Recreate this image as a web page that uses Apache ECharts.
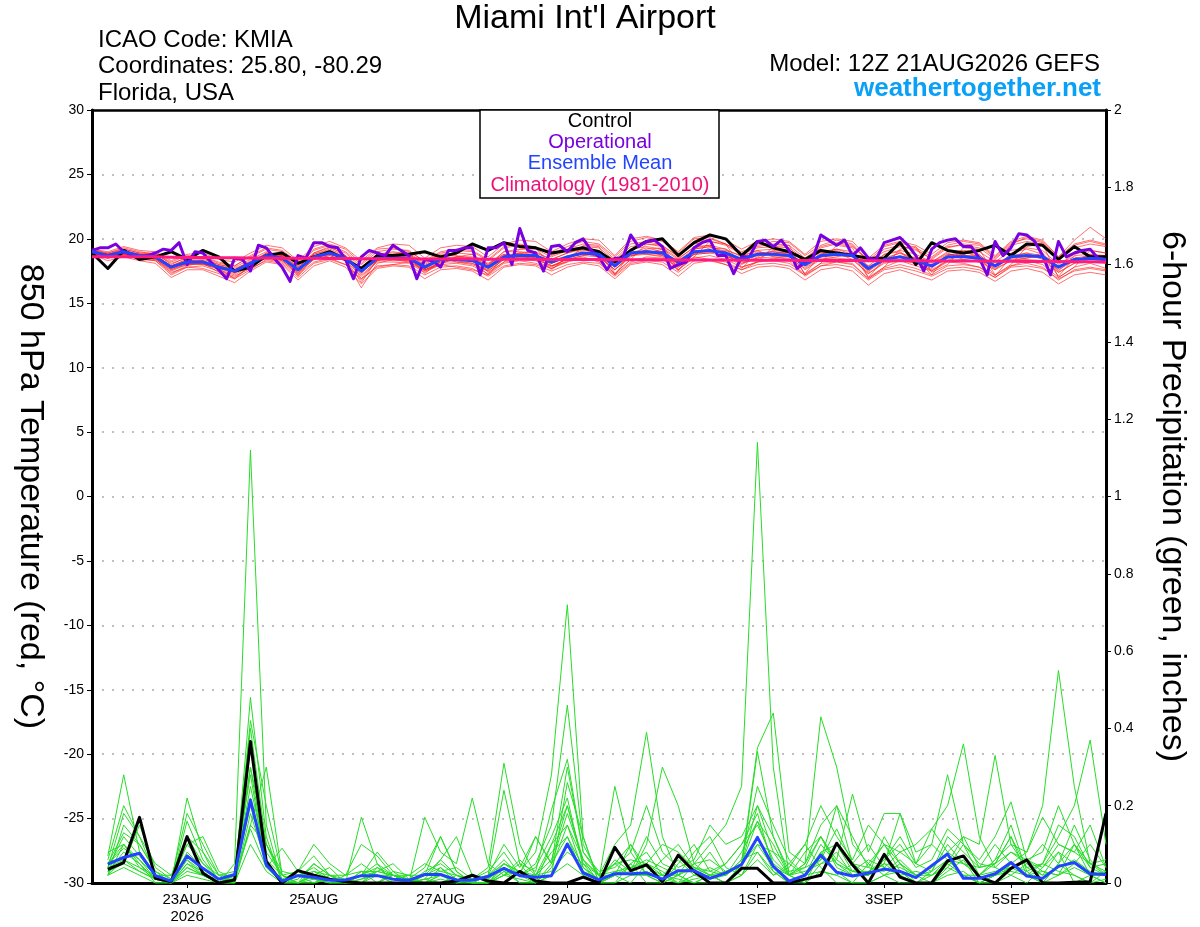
<!DOCTYPE html>
<html><head><meta charset="utf-8">
<script src="https://cdn.jsdelivr.net/npm/echarts@6/dist/echarts.min.js"></script>
<style>html,body{margin:0;padding:0;background:#fff}#c{width:1200px;height:927px}</style>
</head><body><div id="c"></div>
<script>
// ---------- time layout (hours after 12Z 21AUG2026) ----------
const tempStepH = 6;      // ensemble temperature every 6 h from hour 0
const opStepH = 3;        // operational every 3 h from hour 0
const precipStartH = 6;   // 6-hour precipitation from hour 6
const xTickHours = [36, 84, 132, 180, 252, 300, 348];
const xTickLabels = ['23AUG\n2026', '25AUG', '27AUG', '29AUG', '1SEP', '3SEP', '5SEP'];

// ---------- 850 hPa temperature (°C) ----------
const climatology = [18.6,18.6,18.6,18.6,18.6,18.58,18.56,18.55,18.54,18.53,18.52,18.51,18.5,18.5,18.49,18.48,18.47,18.46,18.46,18.45,18.45,18.44,18.44,18.43,18.43,18.42,18.42,18.41,18.41,18.4,18.4,18.39,18.39,18.38,18.38,18.37,18.37,18.36,18.36,18.35,18.35,18.34,18.34,18.33,18.33,18.32,18.32,18.31,18.31,18.3,18.3,18.29,18.29,18.28,18.28,18.27,18.27,18.26,18.26,18.25,18.25,18.24,18.23,18.22,18.2];
const controlTemp = [18.9, 17.7,19.1,18.4,18.6, 19.0,18.4,19.1,18.6, 17.5,17.8,18.7,18.9, 18.1,18.6,19.0,18.4, 17.7,18.7,18.7,18.8, 19.0,18.6,18.9,19.6, 19.1,19.7,19.4,19.3, 18.9,19.1,19.3,19.0, 18.2,19.1,19.8,20.0, 18.7,19.7,20.3,20.0, 18.7,19.8,19.3,19.0, 18.4,19.1,18.9,18.7, 18.5,18.5,19.7,18.0, 19.7,19.1,18.9,19.1, 19.5,18.7,19.6,19.5, 18.4,19.4,18.6,18.6];
const operationalTemp = [19.1,19.3,19.3,19.6,19.0,18.8,18.6,18.7,18.9,19.2,
  19.1,19.7,18.0,19.0,18.9,18.2,17.6,16.9,18.5,18.4,
  17.5,19.5,19.3,18.5,17.8,16.7,18.7,18.5,19.7,19.7,
  19.4,19.3,18.4,16.9,18.6,19.1,18.9,18.7,19.5,19.1,
  18.7,16.9,18.4,18.3,17.8,19.1,19.1,19.3,19.3,17.2,
  19.3,19.3,19.7,18.0,20.8,19.1,18.9,17.5,19.4,19.5,
  19.0,19.7,20.0,19.1,18.6,17.6,18.5,18.5,20.3,19.4,
  19.8,19.9,19.4,17.7,18.0,18.2,19.3,19.7,19.9,18.7,
  18.7,17.3,18.6,18.6,19.8,19.9,19.4,19.9,19.1,17.7,
  18.2,18.5,20.3,19.9,19.5,19.9,18.7,19.3,18.5,18.4,
  19.7,19.9,20.1,19.5,18.7,17.5,19.2,19.7,19.9,20.0,
  19.4,19.4,18.5,17.2,19.8,18.7,19.3,20.4,20.3,19.8,
  18.7,17.2,19.8,18.6,18.9,19.1,19.2,18.5,18.4];
const meanTemp = [19.0, 18.7,19.0,18.7,18.6, 17.8,18.2,18.2,17.8, 17.5,18.1,18.7,18.5, 17.6,18.6,18.9,18.5, 17.5,18.5,18.5,18.5, 17.8,18.4,18.4,18.3, 17.8,18.6,18.7,18.7, 18.2,18.6,18.9,18.8, 17.9,18.9,19.0,18.9, 18.2,19.0,19.1,18.9, 18.4,18.8,18.8,18.7, 18.0,18.7,18.8,18.7, 17.7,18.4,18.6,18.3, 17.9,18.6,18.6,18.5, 17.9,18.6,18.7,18.6, 17.8,18.4,18.5,18.4];
const tempMembers = [
 [18.9, 18.5,18.8,18.6,18.4, 17.5,18.0,18.1,17.4, 17.0,17.9,18.9,18.8, 17.3,18.9,19.4,18.7, 16.9,18.3,18.8,18.9, 17.5,18.0,18.6,18.8, 17.4,18.2,19.2,19.3, 17.9,18.2,19.5,19.4, 17.3,18.4,19.6,19.5, 17.6,18.6,19.8,19.6, 17.8,18.2,19.4,19.5, 17.2,18.1,19.5,19.3, 17.0,17.8,19.2,19.4, 17.4,18.0,19.3,19.2, 17.2,18.0,19.4,19.6, 17.0,17.8,19.1,18.9],
 [19.1, 18.8,19.2,18.9,18.8, 18.1,18.5,18.6,18.2, 17.9,18.6,19.2,19.0, 18.0,19.1,19.5,19.0, 18.0,19.0,19.2,19.1, 18.2,18.9,19.1,19.0, 18.3,19.3,19.5,19.4, 18.7,19.2,19.6,19.5, 18.4,19.6,19.8,19.5, 18.6,19.7,20.0,19.6, 18.9,19.4,19.6,19.5, 18.5,19.4,19.7,19.5, 18.2,19.2,19.5,19.1, 18.5,19.4,19.5,19.3, 18.4,19.5,19.8,19.6, 18.3,19.3,19.6,19.4],
 [18.8, 18.5,18.8,18.4,18.3, 17.4,17.8,17.9,17.5, 17.1,17.7,18.3,18.1, 17.0,18.1,18.4,18.0, 16.8,17.9,18.0,17.9, 17.2,17.8,17.9,17.7, 17.1,17.9,18.1,18.0, 17.5,18.0,18.2,18.1, 17.1,18.1,18.3,18.2, 17.4,18.3,18.4,18.2, 17.6,18.0,18.1,17.9, 17.2,17.9,18.0,17.8, 16.8,17.6,17.8,17.5, 17.1,17.7,17.8,17.6, 17.0,17.8,17.9,17.7, 16.9,17.5,17.7,17.5],
 [19.0, 18.8,19.1,18.8,18.7, 17.9,18.4,18.3,17.7, 17.3,18.0,18.6,18.6, 17.8,18.8,19.1,18.6, 17.2,18.3,18.7,18.8, 17.9,18.6,18.2,18.0, 17.5,18.4,18.9,19.0, 18.4,18.9,19.2,18.7, 17.6,18.6,19.2,19.3, 18.5,19.3,19.5,18.8, 18.0,18.6,19.1,19.0, 17.6,18.4,18.6,18.9, 17.4,18.8,19.0,18.2, 17.5,18.3,18.9,18.8, 17.6,18.9,19.2,18.8, 17.4,18.1,18.8,18.7],
 [18.9, 18.6,18.9,18.6,18.5, 17.6,18.1,18.0,17.9, 17.6,18.3,18.8,18.3, 17.4,18.4,18.7,18.3, 16.2,18.1,18.4,18.3, 17.6,18.1,18.5,18.5, 18.0,18.8,18.5,18.4, 17.9,18.4,18.7,18.9, 18.1,19.1,18.8,18.6, 17.8,18.8,18.9,19.1, 18.7,19.1,18.6,18.4, 18.2,19.0,18.9,18.4, 17.3,18.1,18.3,18.5, 18.2,18.9,18.4,18.2, 18.2,18.4,18.5,18.9, 17.5,18.7,18.8,18.1],
 [19.0, 18.7,19.0,18.8,18.7, 17.9,18.3,18.4,18.0, 17.7,18.2,18.6,18.4, 17.7,18.5,18.8,18.6, 17.6,18.6,18.4,18.2, 17.5,18.2,18.6,18.6, 18.1,18.8,18.6,18.5, 17.8,18.5,19.1,19.0, 18.2,18.7,18.9,19.2, 18.0,18.8,19.3,19.2, 18.1,18.5,18.9,19.0, 17.9,18.9,19.1,18.6, 17.9,18.3,18.4,18.6, 18.1,18.8,18.8,18.3, 17.7,18.3,18.5,18.7, 18.1,18.6,18.2,18.2],
 [18.9, 18.6,19.0,18.7,18.6, 17.8,18.2,18.3,17.9, 17.6,18.2,18.9,18.7, 17.8,18.8,19.2,18.7, 17.7,18.8,18.9,18.9, 18.1,18.8,18.9,18.8, 18.0,19.0,19.2,19.2, 18.6,19.1,19.4,19.3, 18.3,19.4,19.6,19.4, 18.7,19.6,19.8,19.5, 18.8,19.3,19.4,19.3, 18.4,19.3,19.6,19.4, 18.3,19.0,19.4,19.2, 18.4,19.3,19.6,19.5, 18.5,19.6,20.1,19.8, 18.6,19.9,20.9,20.0],
 [19.0, 18.6,18.9,18.5,18.4, 17.6,18.0,18.1,17.6, 17.2,17.9,18.5,18.3, 17.3,18.4,18.7,18.3, 17.1,18.2,18.2,18.1, 17.4,18.0,18.1,17.9, 17.3,18.2,18.4,18.3, 17.7,18.2,18.5,18.3, 17.3,18.4,18.5,18.4, 17.6,18.5,18.7,18.4, 17.8,18.2,18.3,18.1, 17.3,18.1,18.2,18.0, 16.9,17.7,18.0,17.7, 17.2,17.9,18.0,17.8, 17.0,17.9,18.1,17.8, 16.8,17.6,17.8,17.6],
 [19.1, 18.8,19.1,18.7,18.6, 17.7,18.1,18.0,17.7, 17.5,18.0,18.5,18.4, 17.5,18.5,18.9,18.6, 17.4,18.4,18.6,18.6, 17.7,18.3,18.3,18.1, 17.6,18.5,18.7,18.8, 18.1,18.6,18.9,18.9, 17.8,18.8,18.9,18.8, 18.0,19.0,19.1,18.8, 18.3,18.8,19.0,18.8, 17.8,18.6,18.7,18.6, 17.5,18.3,18.6,18.4, 17.8,18.5,18.6,18.4, 17.8,18.5,18.6,18.5, 17.6,18.3,18.4,18.3],
 [18.8, 18.5,18.9,18.8,18.7, 17.9,18.4,18.1,17.8, 17.4,18.2,18.8,18.7, 17.6,18.5,19.0,18.4, 17.3,18.6,18.3,18.3, 17.9,18.5,18.6,18.4, 17.9,18.7,18.9,18.5, 18.3,18.5,18.9,18.6, 17.6,18.8,19.1,18.7, 18.3,19.2,19.4,18.6, 18.4,19.0,18.7,18.6, 18.1,18.8,19.2,18.8, 17.6,18.5,18.9,18.2, 17.7,18.8,18.7,18.7, 18.0,18.7,18.9,18.4, 17.9,18.3,18.7,18.6],
 [19.0, 18.7,19.0,18.6,18.6, 17.7,18.3,18.2,17.8, 17.6,18.1,18.6,18.4, 17.6,18.7,18.8,18.5, 17.6,18.5,18.6,18.5, 17.7,18.4,18.3,18.4, 17.7,18.5,18.7,18.6, 18.1,18.7,18.8,18.7, 17.9,18.9,19.0,19.0, 18.1,18.9,19.0,19.0, 18.3,18.7,18.8,18.8, 17.9,18.7,18.7,18.7, 17.7,18.4,18.7,18.4, 17.9,18.6,18.7,18.6, 17.9,18.7,18.7,18.6, 17.8,18.4,18.5,18.4],
 [19.2, 18.9,19.2,18.9,18.9, 18.0,18.6,18.5,18.0, 17.8,18.4,19.0,18.7, 17.9,18.9,19.3,18.9, 17.8,18.8,19.0,18.8, 18.0,18.7,18.7,18.5, 17.9,19.0,19.0,18.9, 18.4,18.9,19.3,19.1, 18.1,19.2,19.4,19.2, 18.4,19.4,19.5,19.2, 18.6,19.1,19.2,19.1, 18.2,19.0,19.2,19.0, 17.9,18.8,19.1,18.8, 18.2,19.0,19.1,19.0, 18.2,19.1,19.3,19.1, 18.0,18.8,19.1,18.9],
 [18.9, 18.6,18.8,18.6,18.5, 17.8,18.1,18.2,17.8, 17.4,18.0,18.6,18.5, 17.5,18.5,18.8,18.4, 17.5,18.3,18.4,18.4, 17.6,18.2,18.2,18.1, 17.5,18.4,18.5,18.6, 17.9,18.4,18.7,18.6, 17.6,18.7,18.8,18.7, 17.9,18.8,18.9,18.7, 18.1,18.5,18.6,18.5, 17.7,18.5,18.5,18.4, 17.3,18.2,18.3,18.1, 17.6,18.3,18.4,18.2, 17.6,18.3,18.4,18.3, 17.4,18.1,18.2,18.1],
 [19.0, 18.6,18.9,18.7,18.5, 17.3,17.9,18.2,17.7, 16.9,17.9,18.8,18.6, 17.1,18.6,19.0,18.4, 16.6,18.4,18.6,18.6, 17.3,18.3,18.5,18.3, 17.2,18.6,18.9,18.8, 17.6,18.6,19.2,18.9, 17.2,18.9,19.3,19.0, 17.5,19.2,19.4,19.0, 17.7,18.9,19.0,18.9, 17.3,18.8,19.0,18.8, 17.0,18.4,18.9,18.5, 17.2,18.7,19.0,18.6, 17.1,18.6,18.9,18.7, 17.1,18.5,18.7,18.6],
 [18.9, 18.7,18.9,18.7,18.6, 17.8,18.2,18.2,17.9, 17.5,18.1,18.7,18.5, 17.7,18.6,18.9,18.5, 17.5,18.5,18.5,18.6, 17.9,18.4,18.5,18.3, 17.8,18.6,18.6,18.7, 18.2,18.6,18.9,18.8, 17.9,18.9,19.1,18.9, 18.2,19.0,19.1,18.9, 18.4,18.8,18.8,18.7, 18.0,18.6,18.8,18.7, 17.7,18.4,18.6,18.3, 17.9,18.6,18.6,18.5, 17.9,18.6,18.7,18.6, 17.8,18.4,18.5,18.4],
 [19.0, 18.8,19.0,18.6,18.6, 17.9,18.2,18.3,17.8, 17.4,18.1,18.7,18.6, 17.5,18.6,18.8,18.5, 17.4,18.5,18.7,18.4, 17.7,18.5,18.4,18.3, 17.7,18.6,18.8,18.7, 18.1,18.6,18.8,18.8, 17.8,18.9,19.0,18.9, 18.1,19.0,19.1,18.9, 18.4,18.8,18.8,18.7, 18.0,18.7,18.8,18.7, 17.6,18.4,18.6,18.3, 17.9,18.6,18.6,18.5, 17.9,18.6,18.7,18.6, 17.8,18.4,18.5,18.4],
 [18.8, 18.3,18.6,18.3,18.1, 17.0,17.6,17.6,17.1, 16.6,17.5,18.2,18.0, 16.8,17.9,18.3,17.8, 16.5,17.7,17.9,17.8, 16.9,17.6,17.7,17.5, 16.8,17.8,18.0,17.9, 17.2,17.8,18.1,17.9, 16.9,18.0,18.2,18.0, 17.1,18.1,18.3,18.0, 17.3,17.8,17.9,17.7, 16.8,17.6,17.8,17.5, 16.4,17.3,17.6,17.2, 16.8,17.5,17.6,17.4, 16.7,17.5,17.7,17.4, 16.5,17.2,17.4,17.2],
 [19.2, 19.0,19.4,19.1,19.0, 18.3,18.8,18.9,18.4, 18.2,18.9,19.5,19.3, 18.3,19.4,19.8,19.3, 18.3,19.3,19.6,19.5, 18.5,19.3,19.5,19.4, 18.6,19.6,19.9,19.8, 19.0,19.6,20.0,19.9, 18.7,20.0,20.2,19.9, 19.0,20.1,20.3,19.9, 19.2,19.8,20.0,19.8, 18.8,19.8,20.0,19.8, 18.5,19.5,19.8,19.5, 18.8,19.7,19.9,19.7, 18.7,19.8,20.2,19.9, 18.6,19.6,19.9,19.6],
 [19.0, 18.6,18.7,18.5,18.3, 17.2,17.8,17.7,17.3, 16.9,17.6,18.4,18.2, 17.2,18.2,18.5,18.0, 16.9,17.8,18.0,18.2, 17.6,18.0,17.8,17.6, 17.2,18.1,18.3,18.1, 17.7,18.3,18.6,18.2, 17.2,18.2,18.6,18.5, 17.8,18.6,18.4,18.0, 17.6,18.2,18.5,18.3, 17.1,17.9,18.2,18.1, 16.9,17.8,18.3,17.9, 17.5,18.2,18.1,17.8, 17.2,17.9,18.3,18.0, 17.0,17.8,18.1,17.7],
 [19.1, 18.9,19.3,19.0,18.8, 18.2,18.7,18.6,18.1, 17.9,18.7,19.3,19.1, 18.2,19.2,19.6,19.2, 18.1,19.2,19.3,19.0, 18.3,19.0,19.2,19.1, 18.4,19.4,19.6,19.3, 18.8,19.4,19.8,19.6, 18.6,19.8,20.1,19.8, 18.9,20.0,20.1,19.6, 19.0,19.5,19.8,19.7, 18.7,19.5,19.9,19.6, 18.3,19.4,19.7,19.3, 18.6,19.5,19.8,19.6, 18.6,19.7,20.0,19.7, 18.5,19.5,19.8,19.5]
];

// ---------- 6-hour precipitation (inches), hours 6..384 ----------
const controlPrecip = [0.035,0.053,0.17,0.012,0.003,0.12,0.025,0, 0.008,0.366,0.055,0,0.032,0.02,0.01,0.003, 0,0,0,0,0,0,0.005,0.02, 0.005,0,0.03,0.005,0,0,0.015,0, 0.092,0.032,0.047,0.003,0.072,0.03,0,0, 0.038,0.038,0,0,0.01,0.02,0.103,0.047, 0,0.074,0.015,0,0,0.057,0.07,0.015, 0,0.038,0.06,0,0,0.002,0.003,0.18];
const meanPrecip = [0.049,0.066,0.077,0.019,0.005,0.07,0.038,0.01, 0.022,0.215,0.047,0.005,0.019,0.015,0.007,0.008, 0.019,0.019,0.01,0.007,0.022,0.022,0.008,0.007, 0.017,0.038,0.019,0.015,0.019,0.101,0.026,0.008, 0.024,0.024,0.026,0.01,0.032,0.032,0.012,0.026, 0.048,0.118,0.043,0.005,0.02,0.072,0.028,0.018, 0.026,0.036,0.03,0.014,0.045,0.075,0.012,0.012, 0.024,0.053,0.018,0.012,0.043,0.053,0.024,0.022];
const precipMembers = [
 [0.03,0.08,0.05,0.01,0,0.05,0.02,0, 0.05,1.12,0.15,0,0.02,0.01,0,0, 0,0,0.02,0,0,0.01,0,0, 0,0.03,0,0,0.05,0.12,0.02,0, 0,0.05,0,0,0.02,0,0,0, 0.05,0.12,0.03,0,0,0.08,0.03,0, 0,0.02,0.05,0,0,0.03,0.06,0, 0,0.02,0,0.04,0.08,0,0.02,0],
 [0.06,0.2,0.12,0.02,0,0.1,0.05,0.01, 0,0.3,0.05,0,0.01,0.05,0.02,0, 0.03,0.02,0,0,0.01,0,0.02,0, 0,0.05,0.02,0,0.1,0.2,0.05,0, 0.02,0,0.05,0.02,0,0.05,0.1,0.15, 0.25,1.14,0.3,0.02,0,0.05,0.08,0.02, 0.02,0.05,0.02,0,0.03,0.06,0.02,0, 0.02,0.05,0.03,0,0.05,0.02,0,0.03],
 [0.02,0.1,0.06,0.01,0,0.12,0.08,0.02, 0.02,0.4,0.1,0.02,0,0,0.02,0.01, 0,0.04,0.02,0.01,0,0,0,0.02, 0.01,0.05,0.03,0.08,0.28,0.72,0.12,0, 0,0.02,0.03,0.01,0,0.02,0.04,0.02, 0.06,0.08,0.02,0.04,0.1,0.04,0,0, 0.05,0.1,0.03,0,0,0.05,0.12,0.04, 0.05,0.12,0.02,0.05,0.03,0.02,0,0.01],
 [0.05,0.13,0.1,0.03,0,0.05,0.03,0, 0.02,0.25,0.06,0,0,0.02,0.04,0, 0.01,0.02,0.01,0,0.03,0.05,0.02,0, 0,0.02,0.01,0,0.02,0.1,0.03,0.01, 0.05,0.1,0.02,0,0.05,0.1,0.03,0.02, 0.05,0.1,0.04,0.02,0.08,0.12,0.04,0.02, 0.02,0.06,0.12,0.05,0.1,0.06,0.02,0.02, 0.06,0.1,0.08,0.2,0.55,0.25,0.05,0.02],
 [0.04,0.06,0.04,0.02,0,0.22,0.08,0, 0,0.48,0.12,0,0.02,0,0.01,0, 0.17,0.05,0,0,0.02,0.12,0.03,0, 0,0.04,0,0,0.04,0.15,0.06,0, 0.02,0.04,0.05,0.03,0,0.01,0.02,0, 0.05,0.2,0.12,0.02,0.05,0.43,0.3,0.1, 0.05,0.02,0,0,0.02,0.05,0.02,0, 0,0.05,0.02,0,0.05,0.1,0.02,0],
 [0.03,0.05,0.03,0.01,0,0.04,0.02,0, 0.01,0.35,0.08,0.02,0,0.05,0.02,0, 0,0.03,0.05,0.01,0,0.02,0,0.01, 0.04,0.31,0.1,0.02,0.03,0.08,0.05,0.02, 0.1,0.15,0.39,0.12,0.02,0,0.02,0.05, 0.1,0.18,0.04,0,0.02,0.08,0.1,0.03, 0.02,0.12,0.05,0.02,0,0.04,0.02,0, 0.02,0.04,0.02,0.03,0.02,0.1,0.04,0.05],
 [0.07,0.28,0.08,0.02,0,0.08,0.04,0.01, 0.02,0.2,0.06,0,0,0.02,0,0.02, 0.03,0,0.02,0,0,0.04,0.01,0, 0,0.03,0.02,0.12,0.05,0.3,0.08,0.02, 0.05,0.02,0.1,0.3,0.2,0.05,0.02,0, 0.02,0.1,0.08,0.02,0,0.03,0.02,0.05, 0.1,0.04,0.08,0.05,0.14,0.2,0.36,0.12, 0.04,0.02,0.05,0.02,0.04,0.06,0.03,0.02],
 [0.05,0.1,0.05,0,0,0.06,0.03,0, 0,0.18,0.05,0.01,0.03,0.07,0.02,0, 0.02,0.08,0.03,0,0.01,0.06,0.12,0.02, 0,0.02,0.06,0.02,0.08,0.12,0.04,0, 0.02,0.05,0.08,0.02,0.02,0.08,0.12,0.04, 0.02,0.06,0.02,0.05,0.02,0.06,0.2,0.05, 0.02,0.05,0.18,0.08,0.1,0.28,0.1,0.02, 0.06,0.15,0.03,0.05,0.12,0.2,0.37,0.1],
 [0.02,0.15,0.1,0.03,0.01,0.18,0.1,0.02, 0,0.15,0.3,0.02,0,0,0.02,0, 0,0,0.03,0.02,0,0.02,0.01,0, 0.02,0.05,0.03,0,0.02,0.26,0.12,0, 0.02,0.1,0.04,0.02,0.01,0,0.02,0.03, 0.05,0.35,0.44,0.08,0.05,0.15,0.2,0.12, 0.04,0.03,0.06,0.02,0.04,0.08,0.12,0.1, 0.33,0.1,0.04,0.02,0.08,0.05,0.02,0.03],
 [0.04,0.12,0.07,0.02,0,0.03,0.02,0, 0.01,0.22,0.06,0.02,0.03,0.01,0,0, 0.01,0.03,0.02,0,0.17,0.08,0.05,0.22, 0.05,0.02,0.03,0.02,0.1,0.15,0.03,0.01, 0.25,0.08,0.02,0.02,0.06,0.02,0.01,0.02, 0.08,0.16,0.1,0.02,0.03,0.05,0.06,0.23, 0.08,0.18,0.18,0.05,0.03,0.1,0.05,0.02, 0.05,0.08,0.05,0.1,0.05,0.15,0.06,0.02],
 [0.03,0.05,0.15,0.04,0.01,0.1,0.12,0.03, 0.01,0.14,0.04,0,0.02,0.04,0.01,0, 0.02,0.05,0.02,0.01,0.04,0.12,0.03,0, 0.02,0.1,0.04,0.12,0.05,0.18,0.06,0.02, 0.02,0.03,0.12,0.05,0.03,0.03,0.08,0.02, 0.06,0.25,0.15,0.06,0.02,0.1,0.05,0.02, 0.03,0.05,0.04,0.02,0.02,0.04,0.1,0.06, 0.12,0.21,0.06,0.04,0.1,0.08,0.05,0.06],
 [0.02,0.04,0.02,0,0,0.02,0.01,0, 0,0.1,0.03,0,0,0.01,0,0, 0,0.02,0,0,0.02,0.04,0,0, 0,0.02,0.05,0,0.02,0.05,0.02,0, 0.03,0.02,0.02,0,0.02,0.04,0.02,0, 0.02,0.08,0.03,0,0.02,0.03,0.02,0, 0,0.02,0.03,0,0,0.02,0.03,0, 0.02,0.03,0.02,0,0.02,0.04,0.02,0.02],
 [0.05,0.09,0.06,0.02,0.02,0.12,0.05,0.02, 0.03,0.28,0.04,0.09,0.03,0.1,0.05,0.02, 0.1,0.07,0.02,0.01,0.02,0.06,0.02,0.01, 0.01,0.04,0.02,0.05,0.15,0.46,0.1,0.02, 0.05,0.06,0.05,0.1,0.08,0.04,0.03,0.05, 0.1,0.15,0.06,0.02,0.05,0.12,0.05,0.03, 0.06,0.04,0.02,0.03,0.02,0.06,0.05,0.02, 0.03,0.04,0.06,0.03,0.02,0.05,0.1,0.04],
 [0.04,0.18,0.12,0.05,0.02,0.06,0.02,0, 0.02,0.42,0.2,0.02,0,0.02,0.01,0, 0.02,0.04,0.01,0.02,0.02,0.03,0.04,0.01, 0.02,0.24,0.05,0.03,0.19,0.32,0.08,0.03, 0.04,0.08,0.2,0.08,0.04,0.06,0.15,0.1, 0.12,0.2,0.08,0.05,0.1,0.2,0.12,0.06, 0.15,0.1,0.08,0.1,0.14,0.08,0.05,0.04, 0.1,0.05,0.08,0.17,0.1,0.08,0.15,0.04],
 [0.08,0.1,0.04,0.01,0,0.16,0.06,0.01, 0.01,0.15,0.1,0.01,0,0.03,0.02,0.02, 0.05,0.02,0.02,0,0.01,0.02,0.01,0, 0.02,0.06,0.02,0.02,0.06,0.2,0.06,0.02, 0.03,0.04,0.06,0.04,0.02,0.05,0.06,0.03, 0.04,0.34,0.12,0.03,0.04,0.06,0.14,0.05, 0.04,0.1,0.05,0.02,0.03,0.12,0.08,0.04, 0.05,0.12,0.04,0.05,0.15,0.12,0.04,0.02],
 [0.02,0.06,0.03,0.01,0,0.04,0.02,0.01, 0.02,0.3,0.1,0.03,0.02,0.03,0.01,0, 0.03,0.03,0.02,0.02,0.05,0.03,0.02,0.01, 0.03,0.08,0.02,0.04,0.12,0.22,0.04,0.01, 0.06,0.03,0.02,0.06,0.1,0.04,0.02,0.02, 0.05,0.16,0.05,0.02,0.04,0.12,0.06,0.03, 0.03,0.06,0.1,0.04,0.06,0.14,0.1,0.05, 0.04,0.08,0.06,0.08,0.2,0.1,0.05,0.03]
];

// ---------- helpers ----------
const FONT = '"Liberation Sans", Arial, Helvetica, sans-serif';
function withHours(vals, startH, stepH) { return vals.map((v, i) => [startH + i * stepH, v]); }
function line(data, yIdx, color, width, z) {
  return { type: 'line', data, yAxisIndex: yIdx, symbol: 'none', silent: true, z,
    lineStyle: { color, width, join: 'round' }, emphasis: { disabled: true } };
}

const series = [];
tempMembers.forEach(m => series.push(line(withHours(m, 0, tempStepH), 0, 'rgba(255,20,20,0.6)', 1, 1)));
precipMembers.forEach(m => series.push(line(withHours(m, precipStartH, tempStepH), 1, 'rgb(40,220,40)', 1, 2)));
series.push(line(withHours(controlPrecip, precipStartH, tempStepH), 1, '#000000', 3, 5));
series.push(line(withHours(meanPrecip, precipStartH, tempStepH), 1, '#2244ff', 3, 6));
series.push(line(withHours(controlTemp, 0, tempStepH), 0, '#000000', 3, 5));
series.push(line(withHours(operationalTemp, 0, opStepH), 0, '#7a00e0', 3, 6));
series.push(line(withHours(meanTemp, 0, tempStepH), 0, '#2244ff', 3, 7));
series.push(line(withHours(climatology, 0, tempStepH), 0, '#ff1a80', 3, 8));

const chart = echarts.init(document.getElementById('c'), null, { renderer: 'canvas' });
chart.setOption({
  animation: false,
  backgroundColor: '#ffffff',
  textStyle: { fontFamily: FONT },
  grid: { left: 92, right: 94, top: 110, bottom: 44, show: false },
  xAxis: [{
    type: 'value', min: 0, max: 384, position: 'bottom',
    axisLine: { onZero: false, lineStyle: { color: '#000', width: 3 } },
    axisTick: { customValues: xTickHours, length: 5, lineStyle: { color: '#000', width: 1 } },
    axisLabel: { customValues: xTickHours, color: '#000', fontSize: 15, fontFamily: FONT, margin: 8, lineHeight: 17,
      formatter: v => xTickLabels[xTickHours.indexOf(v)] || '' },
    splitLine: { show: false }
  }, {
    type: 'value', min: 0, max: 384, position: 'top',
    axisLine: { show: true, onZero: false, lineStyle: { color: '#000', width: 2.5 } },
    axisTick: { show: false }, axisLabel: { show: false }, splitLine: { show: false }
  }],
  yAxis: [{
    type: 'value', position: 'left', min: -30, max: 30, interval: 5,
    name: '850 hPa Temperature (red, \u00B0C)', nameLocation: 'middle', nameRotate: -90, nameGap: 45,
    nameTextStyle: { fontSize: 34, color: '#000', fontFamily: FONT },
    axisLine: { show: true, onZero: false, lineStyle: { color: '#000', width: 3 } },
    axisTick: { show: true, length: 5, lineStyle: { color: '#000', width: 1 } },
    axisLabel: { color: '#000', fontSize: 14, fontFamily: FONT, margin: 8 },
    splitLine: { show: true, showMinLine: false, showMaxLine: false, lineStyle: { color: '#aaaaaa', width: 1.5, type: [2, 8] } }
  }, {
    type: 'value', position: 'right', min: 0, max: 2, interval: 0.2,
    name: '6-hour Precipitation (green, inches)', nameLocation: 'middle', nameRotate: -90, nameGap: 49,
    nameTextStyle: { fontSize: 34, color: '#000', fontFamily: FONT },
    axisLine: { show: true, onZero: false, lineStyle: { color: '#000', width: 3 } },
    axisTick: { show: true, length: 5, lineStyle: { color: '#000', width: 1 } },
    axisLabel: { color: '#000', fontSize: 14, fontFamily: FONT, margin: 8 },
    splitLine: { show: false }
  }],
  graphic: [
    { type: 'text', x: 585, y: 19, style: { text: "Miami Int'l Airport", font: '34px ' + FONT, fill: '#000', align: 'center', verticalAlign: 'middle' } },
    { type: 'text', x: 98, y: 40, style: { text: 'ICAO Code: KMIA', font: '24px ' + FONT, fill: '#000', verticalAlign: 'middle' } },
    { type: 'text', x: 98, y: 66, style: { text: 'Coordinates: 25.80, -80.29', font: '24px ' + FONT, fill: '#000', verticalAlign: 'middle' } },
    { type: 'text', x: 98, y: 93, style: { text: 'Florida, USA', font: '24px ' + FONT, fill: '#000', verticalAlign: 'middle' } },
    { type: 'text', x: 1100, y: 64, style: { text: 'Model: 12Z 21AUG2026 GEFS', font: '24px ' + FONT, fill: '#000', align: 'right', verticalAlign: 'middle' } },
    { type: 'text', x: 1101, y: 89, style: { text: 'weathertogether.net', font: 'bold 26px ' + FONT, fill: '#0aa0f5', align: 'right', verticalAlign: 'middle' } },
    { type: 'rect', shape: { x: 480, y: 110, width: 239, height: 88 }, style: { fill: '#fff', stroke: '#000', lineWidth: 1.5 }, z: 100 },
    { type: 'text', x: 600, y: 121, z: 101, style: { text: 'Control', font: '20px ' + FONT, fill: '#000', align: 'center', verticalAlign: 'middle' } },
    { type: 'text', x: 600, y: 142, z: 101, style: { text: 'Operational', font: '20px ' + FONT, fill: '#7a00e0', align: 'center', verticalAlign: 'middle' } },
    { type: 'text', x: 600, y: 163, z: 101, style: { text: 'Ensemble Mean', font: '20px ' + FONT, fill: '#2244ff', align: 'center', verticalAlign: 'middle' } },
    { type: 'text', x: 600, y: 185, z: 101, style: { text: 'Climatology (1981-2010)', font: '20px ' + FONT, fill: '#ee1177', align: 'center', verticalAlign: 'middle' } }
  ],
  series
});
</script>
</body></html>
